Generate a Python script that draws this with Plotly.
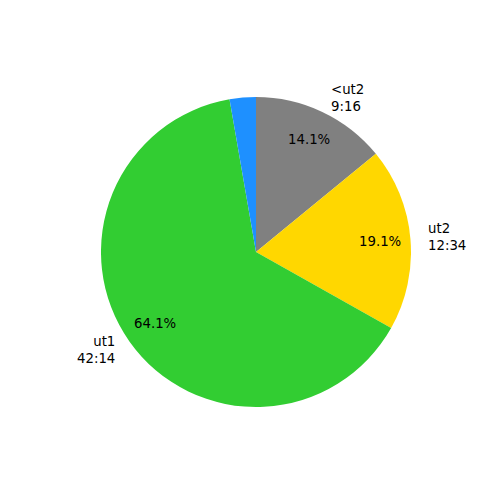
import math
import plotly.graph_objects as go

labels = ["<ut2", "ut2", "ut1", ""]
times = ["9:16", "12:34", "42:14", ""]
seconds = [556, 754, 2534, 108]
colors = ["#808080", "#FFD700", "#32CD32", "#1E90FF"]

W = H = 500
# page body margin of 8px shifts the figure; compensate
cx, cy, R = 256 - 8, 252 - 8, 155

fig = go.Figure(go.Pie(
    values=seconds, labels=[str(i) for i in range(len(seconds))],
    sort=False, direction="clockwise", rotation=0,
    marker=dict(colors=colors, line=dict(width=0)),
    textinfo="none", hoverinfo="skip", showlegend=False,
    domain=dict(x=[(cx - R) / W, (cx + R) / W], y=[(H - cy - R) / H, (H - cy + R) / H]),
))

total = sum(seconds)
ann = []
start = 90.0
font = dict(family="DejaVu Sans", size=13.3, color="black")
for lab, t, v in zip(labels, times, seconds):
    span = v / total * 360
    mid = math.radians(start - span / 2)
    start -= span
    if not lab:
        continue
    px = cx + 0.8 * R * math.cos(mid)
    py = cy - 0.8 * R * math.sin(mid)
    ann.append(dict(x=px / W, y=1 - py / H, xref="paper", yref="paper",
                    text="%.1f%%" % (v / total * 100), showarrow=False,
                    xanchor="center", yanchor="middle", font=font))
    lx = cx + 1.1 * R * math.cos(mid)
    ly = cy - 1.1 * R * math.sin(mid)
    right = math.cos(mid) > 0
    ann.append(dict(x=lx / W, y=1 - ly / H, xref="paper", yref="paper",
                    text=lab.replace("<", "&lt;") + "<br>" + t, showarrow=False,
                    xanchor="left" if right else "right", yanchor="middle",
                    align="left" if right else "right", font=font))

fig.update_layout(width=W, height=H, margin=dict(l=0, r=0, t=0, b=0),
                  paper_bgcolor="white", plot_bgcolor="white", annotations=ann)
fig.write_html("out.html")
